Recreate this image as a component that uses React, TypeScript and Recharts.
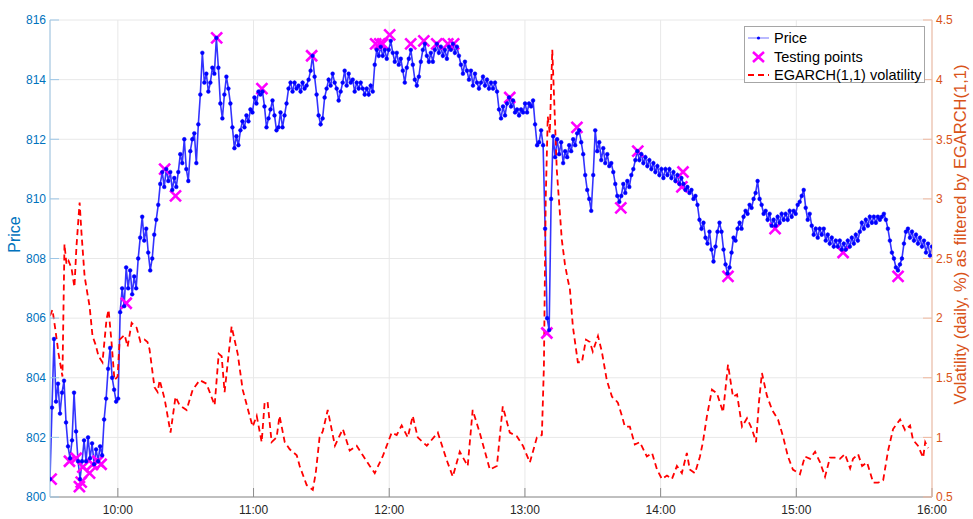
import React from 'react';
import { ComposedChart, Line, Scatter, XAxis, YAxis, CartesianGrid, Legend } from 'recharts';

const FONT = '"Liberation Sans", Arial, Helvetica, sans-serif';
const BLUE = '#0072BD';
const ORANGE = '#D95319';

// minutes after the 9:30 open
const SESSION_MINUTES = 390;
const hourTicks = [30, 90, 150, 210, 270, 330, 390];
const hourLabels = ['10:00', '11:00', '12:00', '13:00', '14:00', '15:00', '16:00'];
const priceTicks = [800, 802, 804, 806, 808, 810, 812, 814, 816];
const volTicks = [0.5, 1, 1.5, 2, 2.5, 3, 3.5, 4, 4.5];

// price, read on an even time grid from open to close
const priceValues = [
  800.6, 803.0, 805.3, 803.2, 803.8, 802.8, 803.5, 803.9, 802.5, 801.7,
  801.3, 801.9, 803.5, 802.2, 801.2, 800.6, 801.2, 801.9, 801.2, 802.0,
  801.3, 801.8, 801.1, 801.6, 801.2, 801.7, 801.4, 802.6, 803.3, 804.3,
  805.0, 804.0, 803.6, 803.2, 803.3, 806.2, 807.0, 806.4, 807.7, 807.0,
  807.6, 806.8, 807.4, 807.0, 808.0, 808.7, 809.4, 808.6, 809.0, 808.2,
  807.6, 808.0, 808.8, 809.3, 809.8, 810.5, 810.9, 810.4, 811.0, 810.6,
  810.9, 810.3, 810.7, 810.4, 810.9, 811.5, 811.2, 812.0, 811.0, 810.6,
  811.6, 812.0, 812.2, 811.2, 812.5, 813.5, 814.9, 813.9, 814.2, 813.6,
  813.9, 814.4, 814.2, 815.4, 814.4, 813.2, 812.7, 813.5, 814.1, 813.7,
  813.2, 812.4, 811.7, 812.1, 811.8, 812.3, 812.6, 812.4, 812.8, 812.6,
  813.0, 812.9, 813.4, 813.2, 813.6, 813.5, 813.6, 813.1, 812.4, 812.7,
  813.0, 813.3, 812.8, 812.3, 812.4, 812.9, 812.4, 812.8, 813.2, 813.7,
  813.9, 813.6, 813.9, 813.7, 813.8, 813.6, 813.9, 813.7, 813.8, 814.0,
  814.3, 814.8, 814.1, 813.5, 812.8, 812.5, 812.7, 813.4, 813.7, 814.0,
  813.8, 814.2, 813.9, 813.7, 813.3, 813.6, 813.9, 814.3, 813.8, 814.2,
  813.9, 814.0, 813.6, 813.9, 813.7, 813.9, 813.7, 813.5, 813.7, 813.5,
  813.8, 813.6, 814.5, 815.0, 814.8, 815.1, 814.8, 815.0, 814.7, 815.0,
  815.3, 814.9, 814.6, 814.9, 814.5, 814.7, 814.3, 813.9, 814.4, 814.7,
  815.0, 814.5, 814.0, 813.8, 814.1, 814.6, 815.0, 815.2, 814.8, 814.6,
  814.9, 814.6, 815.0, 815.2, 814.9, 815.1, 814.8, 815.0, 814.7, 815.1,
  815.0, 815.2, 814.9, 815.1, 814.8, 814.5, 814.2, 814.6, 814.3, 814.0,
  814.3, 813.8, 814.2, 813.9, 813.7, 813.9, 814.1, 813.8, 814.0, 813.7,
  813.9, 813.7, 813.9, 813.6, 813.0, 812.7, 813.1, 812.8, 813.2, 813.4,
  813.1, 813.3, 812.9, 813.0, 812.8, 813.0, 812.9, 813.2, 812.9, 813.2,
  813.1, 813.3, 812.5, 811.8, 811.9, 812.3, 811.8, 809.0, 806.0, 805.6,
  810.0, 812.1, 811.4, 812.0, 811.5, 811.9, 811.2, 811.6, 811.4, 811.8,
  811.6, 812.0, 811.8, 812.2, 812.3, 811.9, 811.5, 810.8, 810.3, 810.0,
  809.6, 810.8, 812.3, 811.6, 811.9, 811.3, 811.7, 811.2, 811.5, 811.1,
  811.2, 810.9, 810.5, 810.1, 809.9, 810.1, 810.5, 810.2, 810.6, 810.4,
  810.8, 811.0, 811.3, 811.6, 811.3, 811.5, 811.2, 811.4, 811.1, 811.3,
  811.0, 811.2, 810.9, 811.1, 810.8, 811.0, 810.7, 811.0, 810.8, 811.0,
  810.7, 810.9, 810.6, 810.8, 810.5, 810.7, 810.5, 810.3, 810.4, 810.2,
  810.3, 810.0, 810.1, 809.8, 809.3, 809.0, 809.2, 808.7, 808.5, 808.9,
  808.3, 807.9, 808.4, 808.9, 809.2, 808.9, 808.3, 807.8, 807.5, 807.7,
  808.2, 808.7, 808.6, 809.0, 809.2, 809.0, 809.4, 809.6, 809.5, 809.8,
  809.7, 810.0, 810.2, 810.6, 810.0, 809.8, 809.5, 809.6, 809.3, 809.5,
  809.1, 809.3, 809.1, 809.4, 809.2, 809.5, 809.3, 809.5, 809.3, 809.6,
  809.4, 809.6, 809.5, 809.8, 809.9, 810.1, 810.3, 809.7, 809.3, 809.5,
  809.1, 808.8, 809.0, 808.7, 809.0, 808.8, 809.0, 808.6, 808.8, 808.5,
  808.7, 808.4, 808.6, 808.4, 808.6, 808.3, 808.5, 808.3, 808.6, 808.4,
  808.7, 808.5, 808.8, 808.6, 808.9, 809.2, 809.0, 809.3, 809.1, 809.4,
  809.2, 809.4, 809.2, 809.4, 809.3, 809.4, 809.5, 809.3, 809.0, 808.6,
  808.2, 808.0, 807.7, 807.6, 807.8, 808.0, 808.5, 808.9, 809.0, 808.7,
  808.9, 808.6, 808.8, 808.5, 808.7, 808.4, 808.6, 808.2, 808.5, 808.1,
  808.4,
];

// testing points
const testMinutes = [
  0.5, 8.6, 11.6, 13.0, 13.8, 14.5, 17.5, 18.9, 21.2, 22.6,
  33.7, 50.7, 55.5, 73.7, 93.7, 115.7, 144.0, 145.8, 147.1, 150.2,
  159.5, 165.3, 171.0, 175.9, 178.5, 203.3, 219.7, 233.0, 252.4, 259.9,
  279.4, 279.9, 299.8, 320.6, 350.7, 375.0,
];
const testPrices = [
  800.6, 801.2, 801.3, 800.35, 800.5, 801.0, 800.8, 801.1, 801.2, 801.1,
  806.5, 811.0, 810.1, 815.4, 813.7, 814.8, 815.2, 815.2, 815.2, 815.5,
  815.2, 815.3, 815.2, 815.2, 815.2, 813.4, 805.5, 812.4, 809.7, 811.6,
  810.4, 810.9, 807.4, 809.0, 808.2, 807.4,
];

// EGARCH(1,1) volatility
const volMinutes = [
  0, 1.1, 2.4, 3.8, 5.5, 6.4, 7.3, 8.2, 9.5, 10.8,
  11.7, 13.1, 13.9, 15.3, 16.6, 17.5, 18.8, 20.1, 21.5, 23.2,
  25.0, 25.9, 27.2, 28.5, 29.9, 30.8, 33.0, 34.3, 36.1, 38.3,
  40.0, 41.8, 43.1, 44.0, 46.2, 47.6, 48.5, 50.7, 53.3, 55.5,
  57.3, 60.4, 63.1, 66.2, 69.2, 72.8, 74.6, 75.9, 77.2, 80.3,
  83.0, 85.2, 88.3, 89.6, 91.4, 93.6, 94.9, 96.2, 98.0, 100.2,
  101.5, 103.8, 106.0, 109.1, 110.4, 113.5, 116.2, 117.5, 119.2, 120.6,
  122.8, 126.0, 127.7, 129.5, 132.5, 135.6, 138.3, 141.4, 143.6, 147.1,
  151.1, 153.3, 155.5, 158.2, 160.4, 162.6, 166.6, 171.5, 175.4, 178.1,
  181.2, 184.7, 186.9, 190.0, 194.5, 197.6, 200.2, 203.3, 206.4, 209.1,
  212.2, 215.3, 217.5, 218.4, 219.2, 220.1, 221.0, 222.1, 224.1, 226.3,
  227.7, 229.0, 229.9, 231.2, 233.4, 235.2, 237.0, 238.7, 240.0, 242.3,
  244.0, 246.2, 248.5, 249.8, 251.1, 252.9, 254.2, 256.4, 258.6, 260.8,
  263.9, 266.2, 268.4, 270.6, 272.8, 275.0, 277.2, 279.4, 281.6, 282.9,
  285.2, 287.4, 288.7, 290.5, 292.7, 294.9, 297.6, 299.8, 302.0, 303.8,
  306.0, 308.2, 310.4, 312.2, 313.5, 314.8, 317.0, 319.3, 321.9, 324.1,
  326.3, 328.5, 331.6, 333.8, 336.1, 338.3, 340.5, 342.7, 344.9, 347.1,
  349.3, 351.5, 353.8, 355.1, 357.3, 359.1, 361.3, 364.0, 366.2, 368.4,
  370.6, 372.8, 375.9, 378.1, 380.3, 381.6, 383.8, 386.1, 387.0, 388.3,
];
const volValues = [
  2.02, 2.07, 1.9, 1.7, 1.51, 2.62, 2.45, 2.48, 2.42, 2.26,
  2.6, 2.97, 2.72, 2.35, 2.2, 2.1, 1.85, 1.78, 1.68, 1.63,
  1.99, 2.07, 1.8, 1.48, 1.51, 1.82, 1.86, 1.76, 1.96, 1.92,
  1.8, 1.82, 1.8, 1.74, 1.42, 1.38, 1.48, 1.32, 1.04, 1.34,
  1.27, 1.23, 1.4, 1.48, 1.45, 1.27, 1.7, 1.68, 1.38, 1.93,
  1.7, 1.4, 1.18, 1.09, 1.18, 0.96, 1.29, 1.3, 0.96, 1.0,
  1.18, 0.96, 0.9, 0.85, 0.76, 0.6, 0.56, 0.7, 1.0, 1.05,
  1.23, 0.93, 1.0, 1.07, 0.89, 0.93, 0.85, 0.76, 0.7, 0.84,
  1.04, 1.02, 1.1, 1.0, 1.18, 1.0, 0.93, 1.04, 0.81, 0.67,
  0.88, 0.76, 1.23, 1.04, 0.73, 0.76, 1.26, 1.04, 1.01, 0.93,
  0.79, 1.0, 1.02, 1.6, 3.0, 3.69, 3.55, 4.25, 3.24, 2.66,
  2.45, 2.32, 2.24, 1.93, 1.63, 1.63, 1.82, 1.8, 1.72, 1.85,
  1.72, 1.48, 1.34, 1.32, 1.29, 1.18, 1.09, 1.09, 0.94, 0.96,
  0.84, 0.87, 0.73, 0.65, 0.68, 0.65, 0.76, 0.7, 0.87, 0.73,
  0.7, 0.84, 0.96, 1.18, 1.4, 1.37, 1.21, 1.61, 1.34, 1.36,
  1.09, 1.16, 1.07, 0.96, 1.3, 1.54, 1.35, 1.23, 1.15, 1.01,
  0.84, 0.73, 0.69, 0.84, 0.82, 0.88, 0.79, 0.67, 0.83, 0.83,
  0.82, 0.86, 0.74, 0.82, 0.86, 0.76, 0.79, 0.62, 0.62, 0.64,
  0.89, 1.07, 1.15, 1.06, 1.1, 0.98, 0.93, 0.83, 0.96, 0.91,
];

const priceData = priceValues.map((p, i) => ({ t: (i * SESSION_MINUTES) / (priceValues.length - 1), p }));
const testData = testMinutes.map((t, i) => ({ t, p: testPrices[i] }));
const volData = volMinutes.map((t, i) => ({ t, v: volValues[i] }));

const XMark = (props: any) => {
  const { cx, cy } = props;
  if (cx == null || cy == null) return null;
  const s = 5.5;
  return (
    <path
      d={`M${cx - s},${cy - s}L${cx + s},${cy + s}M${cx - s},${cy + s}L${cx + s},${cy - s}`}
      stroke="#FF00FF"
      strokeWidth={2.6}
      fill="none"
    />
  );
};

const LegendBox = () => {
  const row: React.CSSProperties = { display: 'flex', alignItems: 'center', height: 18.5 };
  return (
    <div
      style={{
        border: '1px solid #a6a6a6',
        background: '#fff',
        width: 181,
        height: 57,
        paddingTop: 2,
        boxSizing: 'border-box',
        fontFamily: FONT,
        fontSize: 14.5,
        color: '#000',
        lineHeight: '18px',
      }}
    >
      <div style={row}>
        <svg width={28} height={14} style={{ marginLeft: 1 }}>
          <line x1={2} y1={7} x2={23} y2={7} stroke="#0000FF" strokeOpacity={0.55} strokeWidth={1} />
          <circle cx={12.5} cy={7} r={1.6} fill="#0000FF" />
        </svg>
        <span>Price</span>
      </div>
      <div style={row}>
        <svg width={28} height={14} style={{ marginLeft: 1 }}>
          <path d="M7,2L18,12M7,12L18,2" stroke="#FF00FF" strokeWidth={2.6} fill="none" />
        </svg>
        <span>Testing points</span>
      </div>
      <div style={row}>
        <svg width={28} height={14} style={{ marginLeft: 1 }}>
          <line x1={2} y1={7} x2={23} y2={7} stroke="#FF0000" strokeWidth={1.8} strokeDasharray="6 4" />
        </svg>
        <span>EGARCH(1,1) volatility</span>
      </div>
    </div>
  );
};

export default function App() {
  return (
    <div style={{ position: 'absolute', left: 0, top: 0, width: 973, height: 519, background: '#fff' }}>
      <ComposedChart
        width={973}
        height={519}
        margin={{ top: 20, right: 0, bottom: 0, left: 0 }}
        style={{ fontFamily: FONT }}
      >
        <CartesianGrid xAxisId="bottom" yAxisId="left" stroke="#e8e8e8" strokeWidth={1} />
        <XAxis
          xAxisId="bottom"
          dataKey="t"
          type="number"
          domain={[0, SESSION_MINUTES]}
          ticks={hourTicks}
          interval={0}
          allowDataOverflow
          height={22}
          tickSize={-9}
          tickMargin={17}
          tickFormatter={(v: number) => hourLabels[hourTicks.indexOf(v)] ?? ''}
          tick={{ fill: '#262626', fontSize: 12, fontFamily: FONT }}
          axisLine={{ stroke: '#8c8c8c' }}
          tickLine={{ stroke: '#8c8c8c' }}
        />
        <XAxis
          xAxisId="top"
          orientation="top"
          dataKey="t"
          type="number"
          domain={[0, SESSION_MINUTES]}
          ticks={hourTicks}
          interval={0}
          allowDataOverflow
          height={0}
          tickSize={-9}
          tickFormatter={() => ''}
          axisLine={{ stroke: '#8c8c8c' }}
          tickLine={{ stroke: '#8c8c8c' }}
          label={{
            content: (props: any) => {
              const vb = props.viewBox || {};
              return (
                <text
                  x={vb.x + vb.width / 2}
                  y={vb.y - 6}
                  textAnchor="middle"
                  fontFamily={FONT}
                  fontSize={13}
                  fontWeight="bold"
                  fill="#000"
                >
                  Stock: GOOG; Date: 23 April 2013; Bandwidth: 300 seconds
                </text>
              );
            },
          }}
        />
        <YAxis
          yAxisId="left"
          dataKey="p"
          type="number"
          domain={[800, 816]}
          ticks={priceTicks}
          interval={0}
          allowDataOverflow
          width={50}
          tickSize={-9}
          tickMargin={13}
          tick={{ fill: BLUE, fontSize: 12, fontFamily: FONT }}
          axisLine={{ stroke: '#9cc6e6' }}
          tickLine={{ stroke: '#9cc6e6' }}
          label={{
            content: (props: any) => {
              const vb = props.viewBox || {};
              const cx = vb.x + 20;
              const cy = vb.y + vb.height / 2 - 24;
              return (
                <text
                  x={cx}
                  y={cy}
                  transform={`rotate(-90 ${cx} ${cy})`}
                  textAnchor="middle"
                  fontFamily={FONT}
                  fontSize={16}
                  fill={BLUE}
                >
                  Price
                </text>
              );
            },
          }}
        />
        <YAxis
          yAxisId="right"
          orientation="right"
          dataKey="v"
          type="number"
          domain={[0.5, 4.5]}
          ticks={volTicks}
          interval={0}
          allowDataOverflow
          width={41}
          tickSize={-9}
          tickMargin={13}
          tickFormatter={(v: number) => String(v)}
          tick={{ fill: ORANGE, fontSize: 12, fontFamily: FONT }}
          axisLine={{ stroke: '#f0b79d' }}
          tickLine={{ stroke: '#f0b79d' }}
          label={{
            content: (props: any) => {
              const vb = props.viewBox || {};
              const cx = vb.x + 34;
              const cy = vb.y + vb.height / 2 - 24;
              return (
                <text
                  x={cx}
                  y={cy}
                  transform={`rotate(-90 ${cx} ${cy})`}
                  textAnchor="middle"
                  fontFamily={FONT}
                  fontSize={16.5}
                  fill={ORANGE}
                >
                  Volatility (daily, %) as filtered by EGARCH(1,1)
                </text>
              );
            },
          }}
        />
        <Line
          data={priceData}
          xAxisId="bottom"
          yAxisId="left"
          dataKey="p"
          type="linear"
          stroke="#0000FF"
          strokeOpacity={0.8}
          strokeWidth={1.6}
          dot={{ r: 1.9, fill: '#0000FF', stroke: '#0000FF', strokeWidth: 0.6 }}
          isAnimationActive={false}
        />
        <Line
          data={volData}
          xAxisId="bottom"
          yAxisId="right"
          dataKey="v"
          type="linear"
          stroke="#FF0000"
          strokeWidth={1.8}
          strokeDasharray="6 4"
          dot={false}
          isAnimationActive={false}
        />
        <Scatter
          data={testData}
          xAxisId="bottom"
          yAxisId="left"
          dataKey="p"
          shape={<XMark />}
          isAnimationActive={false}
        />
        <Legend
          layout="vertical"
          align="center"
          verticalAlign="middle"
          content={<LegendBox />}
          wrapperStyle={{ top: 26, left: 744, width: 183, height: 59 }}
        />
      </ComposedChart>
    </div>
  );
}
